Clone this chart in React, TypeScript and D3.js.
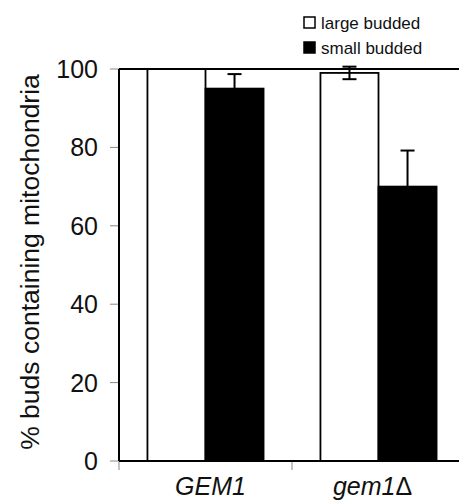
import { useRef, useEffect } from "react";
import * as d3 from "d3";

const categories = ["GEM1", "gem1\u0394"];
const seriesNames = ["large budded", "small budded"];
const largeBudded = [100, 99];
const largeErr = [0, 1.6];
const smallBudded = [95, 70];
const smallErr = [3.7, 9.2];
const yTicks = [0, 20, 40, 60, 80, 100];

export default function App() {
  const svgRef = useRef(null);

  useEffect(() => {
    const width = 459;
    const height = 500;
    const font = "Liberation Sans, Arial, sans-serif";

    const svg = d3.select(svgRef.current)
      .attr("width", width)
      .attr("height", height);
    svg.selectAll("*").remove();

    const x = d3.scaleBand().domain(categories).range([119, 465]).padding(0);
    const xSub = d3.scaleBand().domain(seriesNames).range([0, x.bandwidth()])
      .paddingInner(0).paddingOuter(0.49);
    const y = d3.scaleLinear().domain([0, 100]).range([461, 69]);

    const g = svg.append("g");

    // y ticks + labels
    g.selectAll("line.ytick")
      .data(yTicks)
      .join("line")
      .attr("x1", 110).attr("x2", 119)
      .attr("y1", (d) => y(d)).attr("y2", (d) => y(d))
      .attr("stroke", "#888").attr("stroke-width", 1);

    g.selectAll("text.ylab")
      .data(yTicks)
      .join("text")
      .attr("x", 98)
      .attr("y", (d) => y(d))
      .attr("dy", "0.36em")
      .attr("text-anchor", "end")
      .attr("font-family", font)
      .attr("font-size", 25)
      .attr("fill", "#111")
      .text((d) => d);

    // x ticks
    g.selectAll("line.xtick")
      .data(categories)
      .join("line")
      .attr("x1", (d) => x(d)!).attr("x2", (d) => x(d)!)
      .attr("y1", 461).attr("y2", 470)
      .attr("stroke", "#888").attr("stroke-width", 1);

    const rows = categories.map((c, i) => [
      { cat: c, s: seriesNames[0], v: largeBudded[i], e: largeErr[i], fill: "#fff" },
      { cat: c, s: seriesNames[1], v: smallBudded[i], e: smallErr[i], fill: "#000" },
    ]).flat();

    g.selectAll("rect.bar")
      .data(rows)
      .join("rect")
      .attr("x", (d) => x(d.cat)! + xSub(d.s)!)
      .attr("y", (d) => y(d.v))
      .attr("width", xSub.bandwidth())
      .attr("height", (d) => y(0) - y(d.v))
      .attr("fill", (d) => d.fill)
      .attr("stroke", "#000")
      .attr("stroke-width", 1.8);

    // error bars
    const cx = (d: any) => x(d.cat)! + xSub(d.s)! + xSub.bandwidth() / 2;
    const eb = g.selectAll("g.err").data(rows).join("g");
    eb.append("line")
      .attr("x1", cx).attr("x2", cx)
      .attr("y1", (d) => y(d.v + d.e)).attr("y2", (d) => y(d.v - d.e))
      .attr("stroke", "#000").attr("stroke-width", 2);
    eb.append("line")
      .attr("x1", (d) => cx(d) - 7).attr("x2", (d) => cx(d) + 7)
      .attr("y1", (d) => y(d.v + d.e)).attr("y2", (d) => y(d.v + d.e))
      .attr("stroke", "#000").attr("stroke-width", 2);
    eb.append("line")
      .attr("x1", (d) => cx(d) - 7).attr("x2", (d) => cx(d) + 7)
      .attr("y1", (d) => y(d.v - d.e)).attr("y2", (d) => y(d.v - d.e))
      .attr("stroke", "#000").attr("stroke-width", 2);

    // axes frame
    g.append("line")
      .attr("x1", 119).attr("x2", width)
      .attr("y1", y(0)).attr("y2", y(0))
      .attr("stroke", "#000").attr("stroke-width", 2);
    g.append("line")
      .attr("x1", 119).attr("x2", width)
      .attr("y1", y(100)).attr("y2", y(100))
      .attr("stroke", "#000").attr("stroke-width", 2);
    g.append("line")
      .attr("x1", 119).attr("x2", 119)
      .attr("y1", y(100)).attr("y2", y(0))
      .attr("stroke", "#000").attr("stroke-width", 2);

    // x labels (italic gene name, upright delta)
    const labelNudge = [5, -6];
    const xl = g.selectAll("text.xlab")
      .data(categories)
      .join("text")
      .attr("x", (d, i) => x(d)! + x.bandwidth() / 2 + labelNudge[i])
      .attr("y", 495)
      .attr("text-anchor", "middle")
      .attr("font-family", font)
      .attr("font-size", 25)
      .attr("font-style", "normal")
      .attr("fill", "#111");
    xl.append("tspan")
      .attr("font-style", "italic")
      .text((d) => d.replace("\u0394", ""));
    xl.filter((d) => d.includes("\u0394"))
      .append("tspan")
      .attr("font-style", "normal")
      .style("font-style", "normal")
      .text("\u0394");

    // y title
    svg.append("text")
      .attr("transform", "translate(39,262) rotate(-90)")
      .attr("text-anchor", "middle")
      .attr("font-family", font)
      .attr("font-size", 26.5)
      .attr("fill", "#111")
      .text("% buds containing mitochondria");

    // legend
    const leg = svg.selectAll("g.leg")
      .data(seriesNames)
      .join("g")
      .attr("transform", (d, i) => `translate(304,${17 + i * 25})`);
    leg.append("rect")
      .attr("width", 11).attr("height", 11)
      .attr("fill", (d, i) => (i === 0 ? "#fff" : "#000"))
      .attr("stroke", "#000").attr("stroke-width", 1.5);
    leg.append("text")
      .attr("x", 17).attr("y", 12)
      .attr("font-family", font)
      .attr("font-size", 17)
      .attr("fill", "#111")
      .text((d) => d);
  }, []);

  return (
    <svg ref={svgRef} style={{ position: "absolute", left: 0, top: 0 }}></svg>
  );
}
